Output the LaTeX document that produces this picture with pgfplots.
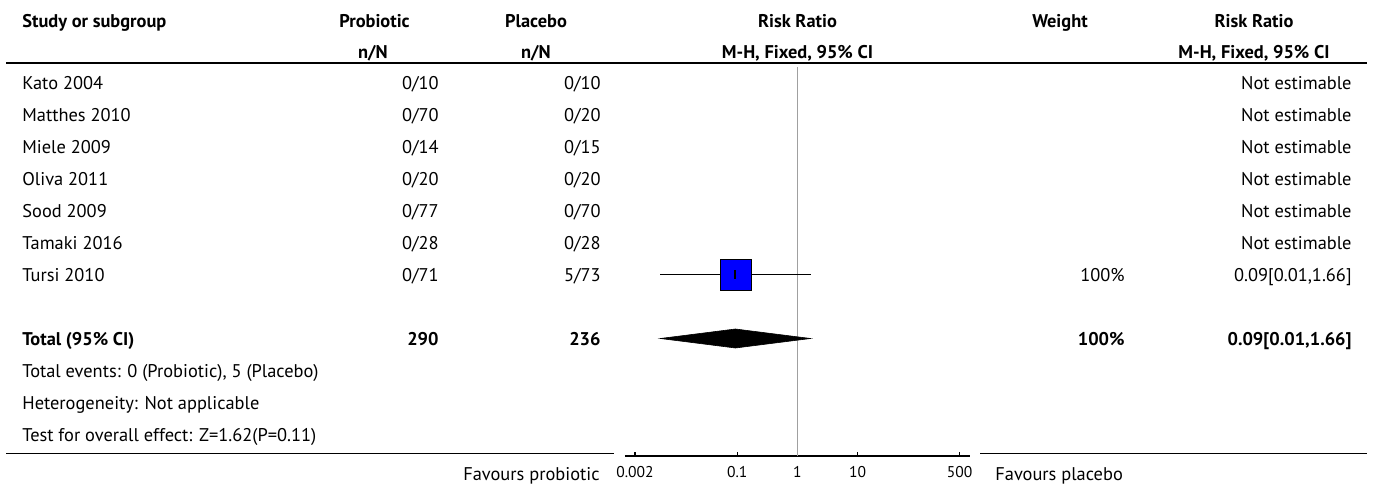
\documentclass[border=0pt]{standalone}
\usepackage{pgfplots}
\pgfplotsset{compat=1.18}
\usepackage{fontspec}
\setmainfont{PT Sans}
\definecolor{refgray}{RGB}{160,160,160}
\definecolor{sqblue}{RGB}{0,0,255}
\begin{document}
\begin{tikzpicture}[
  L/.style={anchor=base west, inner sep=0pt},
  R/.style={anchor=base east, inner sep=0pt},
  C/.style={anchor=base, inner sep=0pt}]
\fontsize{9.2pt}{11pt}\selectfont
% layout axis: pixel coordinates (1 px = 0.5 pt), y downwards
\begin{axis}[name=lay, at={(0,0)}, anchor=south west, scale only axis,
  width=686.5pt, height=241.5pt, xmin=0, xmax=1373, ymin=0, ymax=483,
  y dir=reverse, hide axis, clip=false]
% rules
\addplot[black, line width=0.8pt] coordinates {(6,63) (1367,63)};
\addplot[black, line width=0.8pt] coordinates {(6,453.5) (614,453.5)};
\addplot[black, line width=0.8pt] coordinates {(980,453.5) (1367,453.5)};
% header
\node[L, font=\bfseries] at (axis cs:22,27) {Study or subgroup};
\node[C, font=\bfseries] at (axis cs:374.5,27) {Probiotic};
\node[C, font=\bfseries] at (axis cs:536,27) {Placebo};
\node[C, font=\bfseries] at (axis cs:797.5,27) {Risk Ratio};
\node[C, font=\bfseries] at (axis cs:1060,27) {Weight};
\node[C, font=\bfseries] at (axis cs:1254,27) {Risk Ratio};
\node[C, font=\bfseries] at (axis cs:373,58) {n/N};
\node[C, font=\bfseries] at (axis cs:536,58) {n/N};
\node[C, font=\bfseries] at (axis cs:797.5,58) {M-H, Fixed, 95\% CI};
\node[C, font=\bfseries] at (axis cs:1254,58) {M-H, Fixed, 95\% CI};
% study rows
\node[L] at (axis cs:22,89) {Kato 2004};
\node[R] at (axis cs:439,89) {0/10};
\node[R] at (axis cs:601,89) {0/10};
\node[R] at (axis cs:1352,89) {Not estimable};
\node[L] at (axis cs:22,121) {Matthes 2010};
\node[R] at (axis cs:439,121) {0/70};
\node[R] at (axis cs:601,121) {0/20};
\node[R] at (axis cs:1352,121) {Not estimable};
\node[L] at (axis cs:22,153) {Miele 2009};
\node[R] at (axis cs:439,153) {0/14};
\node[R] at (axis cs:601,153) {0/15};
\node[R] at (axis cs:1352,153) {Not estimable};
\node[L] at (axis cs:22,185) {Oliva 2011};
\node[R] at (axis cs:439,185) {0/20};
\node[R] at (axis cs:601,185) {0/20};
\node[R] at (axis cs:1352,185) {Not estimable};
\node[L] at (axis cs:22,217) {Sood 2009};
\node[R] at (axis cs:439,217) {0/77};
\node[R] at (axis cs:601,217) {0/70};
\node[R] at (axis cs:1352,217) {Not estimable};
\node[L] at (axis cs:22,249) {Tamaki 2016};
\node[R] at (axis cs:439,249) {0/28};
\node[R] at (axis cs:601,249) {0/28};
\node[R] at (axis cs:1352,249) {Not estimable};
\node[L] at (axis cs:22,281) {Tursi 2010};
\node[R] at (axis cs:439,281) {0/71};
\node[R] at (axis cs:601,281) {5/73};
\node[R] at (axis cs:1125,281) {100\%};
\node[R] at (axis cs:1352,281) {0.09[0.01,1.66]};
% total
\node[L, font=\bfseries] at (axis cs:22,345) {Total (95\% CI)};
\node[R, font=\bfseries] at (axis cs:439,345) {290};
\node[R, font=\bfseries] at (axis cs:601,345) {236};
\node[R, font=\bfseries] at (axis cs:1125,345) {100\%};
\node[R, font=\bfseries] at (axis cs:1352,345) {0.09[0.01,1.66]};
\node[L] at (axis cs:22,377) {Total events: 0 (Probiotic), 5 (Placebo)};
\node[L] at (axis cs:22,409) {Heterogeneity: Not applicable};
\node[L] at (axis cs:22,441) {Test for overall effect: Z=1.62(P=0.11)};
% favours
\node[R] at (axis cs:600,480) {Favours probiotic};
\node[L] at (axis cs:995,480) {Favours placebo};
\end{axis}
% forest axis
\begin{axis}[at={(312.5pt,13.5pt)}, anchor=south west, scale only axis,
  width=172.5pt, height=194.5pt, xmode=log, log basis x=10,
  xmin=0.001365, xmax=741, ymin=27, ymax=416,
  axis x line=bottom, axis y line=none,
  axis line style={black, line width=0.75pt, -},
  xtick={0.002,0.1,1,10,500}, xticklabels={0.002,0.1,1,10,500},
  tick align=inside, major tick length=2.2pt,
  tick style={black, line width=0.6pt},
  xticklabel style={font=\fontsize{7.8pt}{9pt}\selectfont, inner sep=0pt, yshift=-5pt},
  clip=false]
\addplot[refgray, line width=0.6pt] coordinates {(1,27) (1,416)};
\addplot[black, line width=0.6pt] coordinates {(0.00526,208.5) (1.659,208.5)};
\addplot[only marks, mark=square*, mark size=7.75pt, mark options={fill=sqblue, draw=none}] coordinates {(0.0934,208.5)};
\addplot[only marks, mark=|, mark size=2.2pt, mark options={draw=black, line width=1pt}] coordinates {(0.0934,208.5)};
\addplot[fill=black, draw=black, line width=0.3pt] coordinates {(0.00526,144.5) (0.0934,154) (1.659,144.5) (0.0934,135)} -- cycle;
\end{axis}
\pgfresetboundingbox
\path (0,0) rectangle (686.5pt,241.5pt);
\end{tikzpicture}
\end{document}
